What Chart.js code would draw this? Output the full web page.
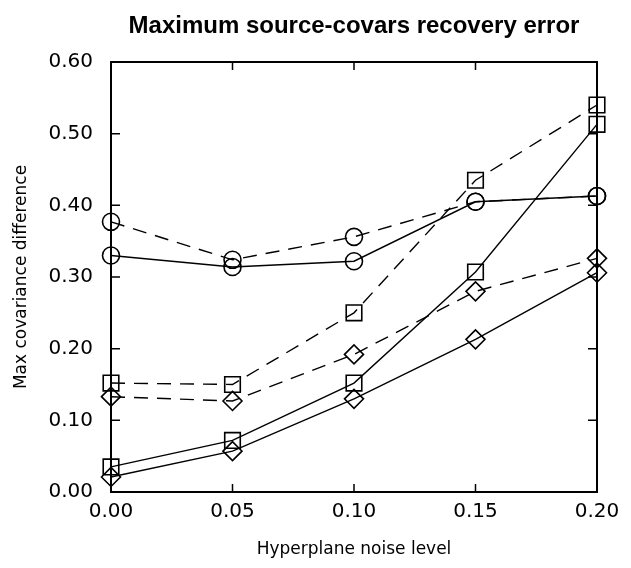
<!DOCTYPE html>
<html>
<head>
<meta charset="utf-8">
<script src="https://cdn.jsdelivr.net/npm/chart.js@4"></script>
<style>
  html, body { margin: 0; padding: 0; background: #fff; }
  #wrap { width: 631px; height: 568px; }
</style>
</head>
<body>
<div id="wrap"><canvas id="chart"></canvas></div>
<script>
// noise levels on x
const noiseLevels = [0.00, 0.05, 0.10, 0.15, 0.20];

const circleSolid = [0.330, 0.314, 0.322, 0.405, 0.413];
const circleDashed = [0.377, 0.324, 0.356, 0.405, 0.413];
const squareSolid = [0.035, 0.072, 0.152, 0.307, 0.513];
const squareDashed = [0.152, 0.150, 0.250, 0.435, 0.540];
const diamondSolid = [0.021, 0.057, 0.130, 0.213, 0.306];
const diamondDashed = [0.133, 0.127, 0.192, 0.280, 0.326];

const xTicks = [0.00, 0.05, 0.10, 0.15, 0.20];
const yTicks = [0.00, 0.10, 0.20, 0.30, 0.40, 0.50, 0.60];

function pts(values) {
    return values.map(function (v, i) { return { x: noiseLevels[i], y: v }; });
}

function series(values, style, radius, dashed) {
    return {
        data: pts(values),
        borderColor: '#000',
        borderWidth: 1.4,
        borderDash: dashed ? [14, 9] : [],
        backgroundColor: 'rgba(0,0,0,0)',
        pointStyle: style,
        pointRadius: radius,
        pointBorderColor: '#000',
        pointBorderWidth: 1.6,
        pointBackgroundColor: 'rgba(0,0,0,0)',
        tension: 0,
        clip: false
    };
}

// inward tick marks on all four sides of the frame
const inTicks = {
    id: 'inTicks',
    afterDraw(chart) {
        const ctx = chart.ctx;
        const a = chart.chartArea;
        const xs = chart.scales.x, ys = chart.scales.y;
        ctx.save();
        ctx.strokeStyle = '#000';
        ctx.lineWidth = 1.5;
        ctx.beginPath();
        xTicks.forEach(function (t) {
            const px = xs.getPixelForValue(t);
            ctx.moveTo(px, a.bottom); ctx.lineTo(px, a.bottom - 8);
            ctx.moveTo(px, a.top); ctx.lineTo(px, a.top + 8);
        });
        yTicks.forEach(function (t) {
            const py = ys.getPixelForValue(t);
            ctx.moveTo(a.left, py); ctx.lineTo(a.left + 9, py);
            ctx.moveTo(a.right, py); ctx.lineTo(a.right - 9, py);
        });
        ctx.stroke();
        ctx.lineWidth = 2;
        ctx.strokeRect(a.left, a.top, a.right - a.left, a.bottom - a.top);
        ctx.restore();
    }
};

const chartEl = document.getElementById("chart");
var CHART = new Chart(chartEl, {
    type: 'line',
    data: {
        datasets: [
            series(circleDashed, 'circle', 8.5, true),
            series(circleSolid, 'circle', 8.5, false),
            series(squareDashed, 'rect', 11, true),
            series(squareSolid, 'rect', 11, false),
            series(diamondDashed, 'rectRot', 9.5, true),
            series(diamondSolid, 'rectRot', 9.5, false)
        ]
    },
    options: {
        responsive: true,
        maintainAspectRatio: false,
        animation: false,
        layout: { padding: { left: 0, right: 34, top: 0, bottom: 0 } },
        plugins: {
            legend: { display: false },
            tooltip: { enabled: false },
            title: {
                display: true,
                fullSize: false,
                text: 'Maximum source-covars recovery error',
                color: '#000',
                font: { family: 'Liberation Sans', size: 24, weight: 'bold' },
                padding: { top: 12, bottom: 21.2 }
            }
        },
        scales: {
            x: {
                type: 'linear',
                min: 0,
                max: 0.2,
                afterBuildTicks(scale) {
                    scale.ticks = xTicks.map(function (v) { return { value: v }; });
                },
                afterFit(scale) { scale.height = 76; },
                grid: { display: false, drawTicks: false },
                border: { display: false },
                ticks: {
                    padding: 8,
                    color: '#000',
                    font: { family: 'DejaVu Sans', size: 20 },
                    callback: function (v) { return v.toFixed(2); }
                },
                title: {
                    display: true,
                    text: 'Hyperplane noise level',
                    color: '#000',
                    font: { family: 'DejaVu Sans', size: 17 },
                    padding: { top: 0, bottom: 8 }
                }
            },
            y: {
                min: 0,
                max: 0.6,
                afterBuildTicks(scale) {
                    scale.ticks = yTicks.map(function (v) { return { value: v }; });
                },
                afterFit(scale) { scale.width = 111; },
                grid: { display: false, drawTicks: false },
                border: { display: false },
                ticks: {
                    padding: 18,
                    color: '#000',
                    font: { family: 'DejaVu Sans', size: 20 },
                    callback: function (v) { return v.toFixed(2); }
                },
                title: {
                    display: true,
                    text: 'Max covariance difference',
                    color: '#000',
                    font: { family: 'DejaVu Sans', size: 17 },
                    padding: { top: 11, bottom: 0 }
                }
            }
        }
    },
    plugins: [inTicks]
});
</script>
</body>
</html>
